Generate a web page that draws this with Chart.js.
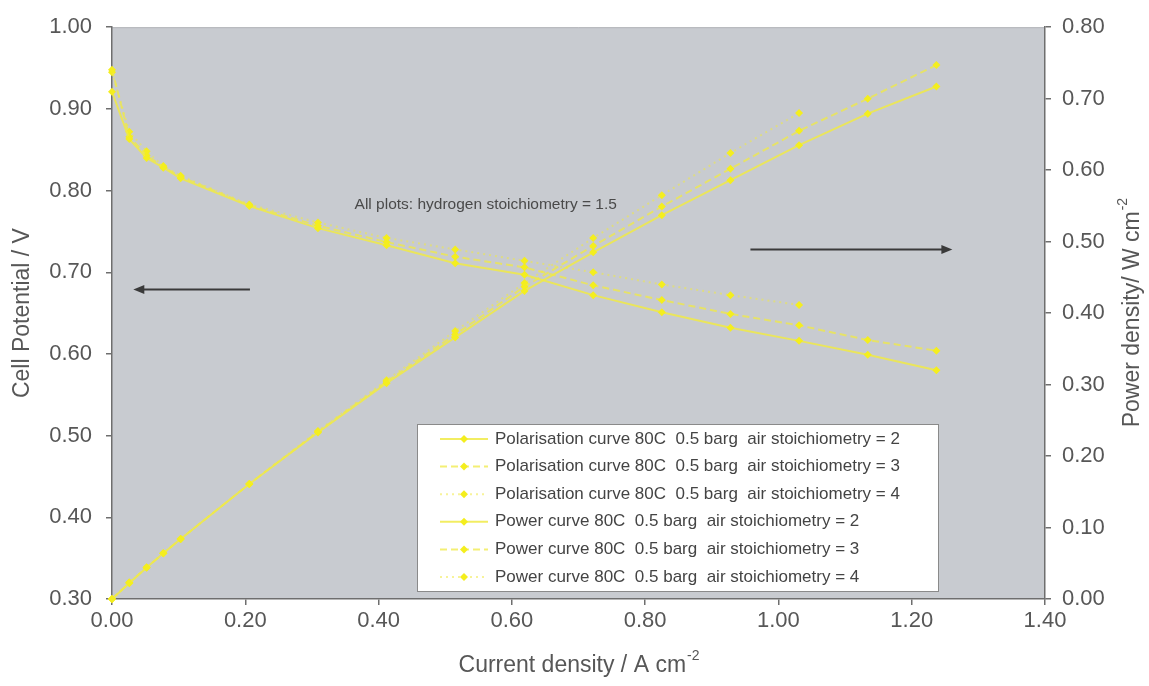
<!DOCTYPE html>
<html>
<head>
<meta charset="utf-8">
<script src="https://cdn.jsdelivr.net/npm/chart.js@4.4.0/dist/chart.umd.min.js"></script>
<style>
  html, body { margin: 0; padding: 0; background: #fff; }
  #wrap { width: 1149px; height: 686px; position: relative; }
</style>
</head>
<body>
<div id="wrap"><canvas id="fuelcell"></canvas></div>
<script>
// current density, A cm-2
var current = [0, 0.026, 0.052, 0.077, 0.103, 0.206, 0.309, 0.412, 0.515, 0.619, 0.722, 0.825, 0.928, 1.031, 1.134, 1.237];

// cell potential, V  (air stoichiometry 2, 3, 4)
var volts2 = [0.921, 0.863, 0.840, 0.828, 0.815, 0.781, 0.754, 0.733, 0.711, 0.697, 0.672, 0.651, 0.632, 0.616, 0.599, 0.580];
var volts3 = [0.948, 0.866, 0.843, 0.829, 0.817, 0.782, 0.757, 0.737, 0.719, 0.706, 0.684, 0.666, 0.649, 0.635, 0.617, 0.604];
var volts4 = [0.945, 0.872, 0.848, 0.830, 0.818, 0.783, 0.761, 0.742, 0.728, 0.714, 0.700, 0.685, 0.672, 0.660];

// power density, W cm-2
var power2 = [0, 0.022, 0.044, 0.064, 0.084, 0.161, 0.233, 0.302, 0.366, 0.431, 0.485, 0.537, 0.586, 0.635, 0.679, 0.717];
var power3 = [0, 0.023, 0.044, 0.064, 0.084, 0.161, 0.234, 0.304, 0.370, 0.437, 0.494, 0.549, 0.602, 0.655, 0.700, 0.747];
var power4 = [0, 0.023, 0.044, 0.064, 0.084, 0.161, 0.235, 0.306, 0.375, 0.442, 0.505, 0.565, 0.624, 0.680];

var seriesNames = [
  "Polarisation curve 80C  0.5 barg  air stoichiometry = 2",
  "Polarisation curve 80C  0.5 barg  air stoichiometry = 3",
  "Polarisation curve 80C  0.5 barg  air stoichiometry = 4",
  "Power curve 80C  0.5 barg  air stoichiometry = 2",
  "Power curve 80C  0.5 barg  air stoichiometry = 3",
  "Power curve 80C  0.5 barg  air stoichiometry = 4"
];

var xTicks = [0, 0.2, 0.4, 0.6, 0.8, 1.0, 1.2, 1.4];
var voltTicks = [0.3, 0.4, 0.5, 0.6, 0.7, 0.8, 0.9, 1.0];
var powerTicks = [0, 0.1, 0.2, 0.3, 0.4, 0.5, 0.6, 0.7, 0.8];

var note = "All plots: hydrogen stoichiometry = 1.5";

var FONT = "'Liberation Sans', Arial, sans-serif";
var textColor = "#575757";
var axisColor = "#6e6e6e";
var markColor = "#f4ee1e";

function series(label, ys, axis, dash, alpha) {
  return {
    label: label,
    data: ys.map((y, i) => ({x: current[i], y: y})),
    yAxisID: axis,
    showLine: true,
    clip: false,
    borderColor: "rgba(240,234,70," + alpha + ")",
    borderWidth: 2,
    borderDash: dash,
    pointStyle: "rectRot",
    pointRadius: 4,
    pointHoverRadius: 4,
    pointBackgroundColor: markColor,
    pointBorderWidth: 0
  };
}

function useTicks(list) {
  return function(scale) {
    scale.ticks = list.map(v => ({value: v}));
  };
}

// title text with a raised "-2" after it, centred on (0,0)
function supText(ctx, main, sup) {
  ctx.font = "23px " + FONT;
  var w1 = ctx.measureText(main).width;
  ctx.font = "14px " + FONT;
  var w2 = ctx.measureText(sup).width;
  var x0 = -(w1 + w2) / 2;
  ctx.font = "23px " + FONT;
  ctx.textAlign = "left";
  ctx.textBaseline = "middle";
  ctx.fillText(main, x0, 0);
  ctx.font = "14px " + FONT;
  ctx.fillText(sup, x0 + w1 + 1, -10);
}

function arrow(ctx, x1, y1, x2, y2) {
  var dir = x2 > x1 ? 1 : -1;
  ctx.strokeStyle = "#3a3a3a";
  ctx.fillStyle = "#3a3a3a";
  ctx.lineWidth = 2;
  ctx.beginPath();
  ctx.moveTo(x1, y1);
  ctx.lineTo(x2 - dir * 8, y2);
  ctx.stroke();
  ctx.beginPath();
  ctx.moveTo(x2, y2);
  ctx.lineTo(x2 - dir * 11, y2 - 4.5);
  ctx.lineTo(x2 - dir * 11, y2 + 4.5);
  ctx.closePath();
  ctx.fill();
}

var decorations = {
  id: "decorations",
  beforeDraw(chart) {
    var a = chart.chartArea, ctx = chart.ctx;
    ctx.save();
    ctx.fillStyle = "#c8cbd0";
    ctx.fillRect(a.left, a.top, a.right - a.left, a.bottom - a.top);
    ctx.strokeStyle = "#b4b6ba";
    ctx.lineWidth = 1;
    ctx.beginPath();
    ctx.moveTo(a.left, a.top + 0.5);
    ctx.lineTo(a.right, a.top + 0.5);
    ctx.stroke();
    ctx.restore();
  },
  afterDatasetsDraw(chart) {
    var ctx = chart.ctx, a = chart.chartArea;
    var sx = chart.scales.x, sy = chart.scales.y;
    ctx.save();

    // direction arrows pointing at each curve's axis
    arrow(ctx, sx.getPixelForValue(0.207), sy.getPixelForValue(0.679), sx.getPixelForValue(0.032), sy.getPixelForValue(0.679));
    arrow(ctx, sx.getPixelForValue(0.958), sy.getPixelForValue(0.728), sx.getPixelForValue(1.261), sy.getPixelForValue(0.728));

    ctx.fillStyle = "#4a4a4a";
    ctx.font = "15.5px " + FONT;
    ctx.textAlign = "left";
    ctx.textBaseline = "middle";
    ctx.fillText(note, sx.getPixelForValue(0.364), sy.getPixelForValue(0.783));

    // legend box
    var L = 417, T = 424, R = 938, B = 591;
    ctx.fillStyle = "#fff";
    ctx.fillRect(L, T, R - L, B - T);
    ctx.strokeStyle = "#8a8a8a";
    ctx.lineWidth = 1;
    ctx.strokeRect(L + 0.5, T + 0.5, R - L, B - T);

    chart.data.datasets.forEach((ds, i) => {
      var y = T + 15 + i * 27.6;
      ctx.strokeStyle = ds.borderColor;
      ctx.lineWidth = 2;
      ctx.setLineDash(ds.borderDash);
      ctx.beginPath();
      ctx.moveTo(440, y);
      ctx.lineTo(488, y);
      ctx.stroke();
      ctx.setLineDash([]);
      ctx.fillStyle = markColor;
      ctx.beginPath();
      ctx.moveTo(464, y - 4);
      ctx.lineTo(468, y);
      ctx.lineTo(464, y + 4);
      ctx.lineTo(460, y);
      ctx.closePath();
      ctx.fill();
      ctx.fillStyle = "#444";
      ctx.font = "17px " + FONT;
      ctx.fillText(ds.label, 495, y);
    });

    // axis titles
    ctx.fillStyle = textColor;
    ctx.save();
    ctx.translate((a.left + a.right) / 2, 666);
    supText(ctx, "Current density / A cm", "-2");
    ctx.restore();

    ctx.save();
    ctx.translate(23, (a.top + a.bottom) / 2);
    ctx.rotate(-Math.PI / 2);
    ctx.font = "23px " + FONT;
    ctx.textAlign = "center";
    ctx.textBaseline = "middle";
    ctx.fillText("Cell Potential / V", 0, 0);
    ctx.restore();

    ctx.save();
    ctx.translate(1133, (a.top + a.bottom) / 2);
    ctx.rotate(-Math.PI / 2);
    supText(ctx, "Power density/ W cm", "-2");
    ctx.restore();

    ctx.restore();
  }
};

function axisGrid() {
  return { display: true, drawOnChartArea: false, drawTicks: true, tickLength: 6, color: axisColor, lineWidth: 1.5 };
}

var tickFont = { family: FONT, size: 22 };

new Chart(document.getElementById("fuelcell"), {
  type: "scatter",
  data: {
    datasets: [
      series(seriesNames[0], volts2, "y", [], 0.85),
      series(seriesNames[1], volts3, "y", [7, 4], 0.75),
      series(seriesNames[2], volts4, "y", [2, 4], 0.55),
      series(seriesNames[3], power2, "y2", [], 0.85),
      series(seriesNames[4], power3, "y2", [7, 4], 0.75),
      series(seriesNames[5], power4, "y2", [2, 4], 0.55)
    ]
  },
  options: {
    responsive: true,
    maintainAspectRatio: false,
    animation: false,
    layout: { padding: { top: 23, left: 0, right: 0, bottom: 0 } },
    plugins: {
      legend: { display: false },
      tooltip: { enabled: false }
    },
    scales: {
      x: {
        type: "linear",
        min: 0, max: 1.4,
        afterBuildTicks: useTicks(xTicks),
        afterFit(scale) { scale.height = 87; },
        grid: axisGrid(),
        border: { display: true, color: axisColor, width: 1.5 },
        ticks: { padding: 3, color: textColor, font: tickFont, callback: v => v.toFixed(2) }
      },
      y: {
        type: "linear",
        position: "left",
        min: 0.3, max: 1.0,
        afterBuildTicks: useTicks(voltTicks),
        afterFit(scale) { scale.width = 112; },
        grid: axisGrid(),
        border: { display: true, color: axisColor, width: 1.5 },
        ticks: { padding: 14, color: textColor, font: tickFont, callback: v => v.toFixed(2) }
      },
      y2: {
        type: "linear",
        position: "right",
        min: 0, max: 0.8,
        afterBuildTicks: useTicks(powerTicks),
        afterFit(scale) { scale.width = 104; },
        grid: axisGrid(),
        border: { display: true, color: axisColor, width: 1.5 },
        ticks: { padding: 11, color: textColor, font: tickFont, callback: v => v.toFixed(2) }
      }
    }
  },
  plugins: [decorations]
});
</script>
</body>
</html>
